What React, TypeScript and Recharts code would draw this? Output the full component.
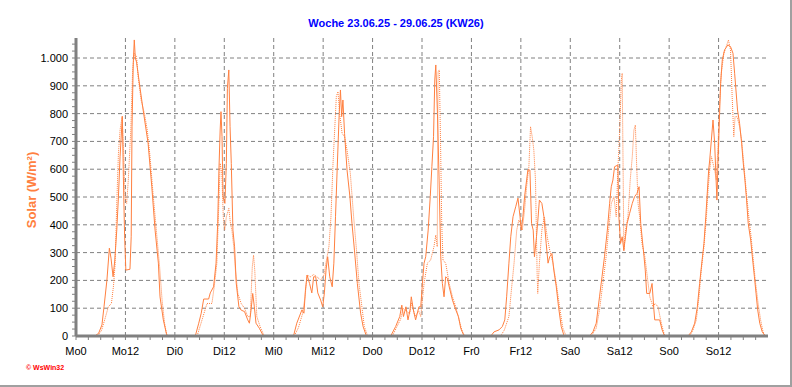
import { LineChart, Line, XAxis, YAxis, ReferenceLine } from "recharts";

const days = ["Mo", "Di", "Mi", "Do", "Fr", "Sa", "So"];

// [hour of day, W/m²] - solid series
const moA = [[0,0],[4.6,0],[5.5,10],[6.3,40],[6.8,105],[7.5,200],[8.1,316],[8.5,280],[9.0,213],[9.4,270],[9.9,381],[10.3,501],[10.7,645],[11.25,790],[11.5,573],[11.8,360],[12.1,237],[13.1,240],[13.4,357],[13.6,753],[13.9,982],[14.15,1065],[14.4,1000],[14.7,985],[15.5,897],[16.3,813],[17.5,694],[18.4,537],[19.2,381],[20,262],[20.4,141],[21.2,58],[22,5],[22.4,0],[24,0]];
const diA = [[0,0],[4.96,0],[5.8,46],[6.4,82],[7.0,133],[8.2,133],[8.6,155],[9.4,177],[10.0,262],[10.4,405],[10.7,597],[11.0,741],[11.2,807],[11.45,717],[11.7,501],[12.15,477],[12.5,621],[12.75,891],[13.1,957],[13.4,753],[13.7,621],[14.1,381],[14.5,321],[14.9,190],[15.55,105],[16.1,93],[16.9,88],[17.7,58],[18.1,46],[18.5,93],[18.9,153],[19.3,105],[19.7,46],[20.5,28],[21.5,0],[24,0]];
const miA = [[0,0],[4.8,0],[5.6,46],[6.85,94],[7.34,82],[7.7,165],[8.1,219],[8.7,189],[9.25,155],[9.7,213],[10.2,213],[10.7,155],[11.4,129],[11.9,105],[12.3,155],[12.7,237],[13.1,285],[13.6,213],[14.2,177],[14.6,262],[15.0,429],[15.4,597],[15.9,801],[16.2,885],[16.5,789],[16.8,849],[17.2,729],[17.8,597],[18.5,501],[19.0,405],[19.6,309],[20.3,189],[21.1,82],[21.7,34],[22.5,0],[24,0]];
const doA = [[0,0],[4.4,0],[5.6,34],[6.6,70],[7.1,111],[7.5,70],[8.1,105],[8.6,58],[9.1,94],[9.4,141],[9.9,94],[10.45,58],[11.25,105],[11.7,105],[12.1,189],[12.5,262],[12.9,285],[13.5,381],[14.0,501],[14.4,609],[14.8,717],[15.1,921],[15.35,975],[15.75,801],[16.15,561],[16.55,285],[16.95,189],[17.35,141],[17.75,213],[18.2,207],[18.6,177],[19.4,129],[20.2,94],[20.85,70],[21.4,28],[22.2,0],[24,0]];
const frA = [[0,0],[4.7,0],[5.5,15],[6.7,22],[7.5,34],[8.1,58],[8.55,141],[9.1,262],[9.55,357],[10.1,429],[10.75,465],[11.3,496],[11.8,429],[12.1,381],[12.5,429],[12.9,501],[13.4,561],[13.7,597],[14.2,597],[14.6,405],[15.0,381],[15.3,285],[15.8,357],[16.1,411],[16.5,489],[17.1,477],[17.6,429],[18.15,333],[18.6,262],[19.0,285],[19.55,297],[20.0,237],[20.6,177],[21.15,105],[21.8,34],[22.5,0],[24,0]];
const saA = [[0,0],[4.7,0],[5.5,15],[6.3,46],[7.1,141],[7.7,213],[8.3,285],[9.0,381],[9.55,477],[9.95,537],[10.35,561],[10.75,609],[11.55,615],[11.8,429],[12.2,333],[12.6,357],[13.0,309],[13.4,357],[13.8,405],[14.4,441],[15.05,477],[15.6,501],[16.2,513],[16.7,537],[17.1,405],[17.5,345],[17.9,285],[18.2,237],[18.55,153],[19.3,153],[19.85,189],[20.3,94],[20.5,58],[21.7,58],[22.3,22],[22.9,0],[24,0]];
const soA = [[0,0],[4.6,0],[5.4,15],[6.2,46],[6.85,105],[7.4,189],[8.0,273],[8.45,333],[8.9,429],[9.3,525],[9.6,597],[9.85,633],[10.25,705],[10.65,777],[11.05,693],[11.3,597],[11.6,489],[11.85,621],[12.25,801],[12.5,909],[12.9,993],[13.45,1029],[14.25,1047],[14.9,1041],[15.5,1017],[15.9,945],[16.6,813],[17.1,765],[17.6,693],[18.0,621],[18.4,561],[18.8,489],[19.2,405],[19.8,345],[20.2,285],[20.7,213],[21.1,153],[21.5,94],[22.0,46],[22.6,15],[23.3,0]];

// dotted series
const moB = [[0,0],[5.2,0],[6.2,20],[7.0,60],[7.85,105],[8.6,117],[9.1,180],[9.5,260],[9.87,465],[10.3,657],[10.7,741],[11.2,790],[11.6,650],[11.9,501],[12.3,477],[12.7,561],[13.3,741],[13.75,957],[14.15,1017],[14.7,1005],[15.1,930],[15.8,849],[16.6,801],[17.3,741],[17.9,657],[18.7,513],[19.5,381],[20.3,249],[20.9,129],[21.5,46],[22.1,0],[24,0]];
const diB = [[0,0],[5.4,0],[6.6,58],[7.8,117],[9.0,117],[9.55,177],[10.2,262],[10.6,441],[11.0,621],[11.4,585],[11.75,429],[12.1,381],[12.5,429],[13.1,459],[13.5,405],[13.85,381],[14.3,321],[14.7,237],[15.3,153],[16.1,117],[16.9,100],[17.7,70],[18.3,70],[18.8,249],[19.1,291],[19.4,237],[19.9,70],[20.7,34],[21.7,0],[24,0]];
const miB = [[0,0],[5.0,0],[6.0,30],[7.0,80],[7.6,140],[8.1,219],[8.9,213],[9.7,221],[10.5,213],[11.4,201],[12.2,219],[12.8,273],[13.4,321],[13.9,429],[14.4,621],[14.8,741],[15.2,861],[15.6,879],[16.0,801],[16.6,729],[17.2,717],[17.8,669],[18.6,585],[19.4,429],[20.1,309],[20.7,189],[21.5,94],[22.0,34],[22.8,0],[24,0]];
const doB = [[0,0],[4.8,0],[5.8,30],[6.8,60],[7.4,100],[8.2,90],[9.0,80],[9.5,120],[10.3,70],[11.2,90],[11.7,70],[12.5,189],[13.3,262],[14.1,273],[14.9,321],[15.35,363],[15.7,321],[15.9,950],[16.2,957],[16.5,700],[16.8,400],[17.1,273],[17.75,262],[18.6,189],[19.4,141],[20.2,105],[21.0,58],[21.8,15],[22.5,0],[24,0]];
const frB = [[0,0],[7.1,0],[8.0,22],[9.1,70],[9.7,165],[10.35,262],[11.0,381],[11.5,417],[11.95,405],[12.35,381],[12.9,453],[13.4,537],[13.95,609],[14.35,753],[14.75,717],[15.15,669],[15.55,561],[15.95,225],[16.1,153],[16.5,262],[17.1,381],[17.7,429],[18.4,357],[19.0,309],[19.8,262],[20.6,189],[21.4,105],[22.2,28],[23.0,0],[24,0]];
const saB = [[0,0],[5.1,0],[6.3,28],[7.1,94],[7.9,189],[8.7,285],[9.3,381],[9.95,477],[10.6,501],[11.15,429],[11.55,597],[12.0,741],[12.4,921],[12.6,945],[12.85,561],[13.0,305],[13.4,381],[14.0,429],[14.55,561],[15.05,645],[15.45,741],[15.8,759],[16.1,621],[16.45,477],[16.85,429],[17.4,333],[18.1,285],[18.7,213],[19.3,141],[20.1,105],[20.6,117],[21.3,105],[22.1,46],[22.9,0],[24,0]];
const soB = [[0,0],[5.0,0],[5.8,22],[6.6,58],[7.25,141],[7.8,237],[8.45,321],[9.05,429],[9.45,525],[9.85,597],[10.25,645],[10.65,621],[11.05,597],[11.45,561],[11.85,681],[12.25,837],[12.65,945],[13.3,1017],[13.85,1041],[14.4,1065],[14.9,1029],[15.3,861],[15.7,717],[16.0,789],[16.5,789],[17.1,753],[17.6,705],[18.1,621],[18.7,525],[19.25,441],[19.9,357],[20.5,262],[21.0,189],[21.6,117],[22.2,58],[22.8,15],[23.3,0]];

const xTicks = Array.from({ length: 56 }, (_, i) => i * 3);
const gridX = [12, 24, 36, 48, 60, 72, 84, 96, 108, 120, 132, 144, 156];
const yTicks = Array.from({ length: 43 }, (_, i) => i * 25);
const gridY = [100, 200, 300, 400, 500, 600, 700, 800, 900, 1000];

const toSeries = (list: number[][][]) =>
  list.flatMap((day, i) => day.map(([h, v]) => ({ t: i * 24 + h, v })));

const solidData = toSeries([moA, diA, miA, doA, frA, saA, soA]);
const dottedData = toSeries([moB, diB, miB, doB, frB, saB, soB]);

const font = "'Liberation Sans', Arial, sans-serif";
const orange = "#FF8040";

const xLabel = (t: number) => (t % 12 === 0 ? days[Math.floor(t / 24)] + (t % 24) : "");
const yLabel = (v: number) => (v % 100 !== 0 ? "" : v >= 1000 ? "1.000" : String(v));

export default function App() {
  return (
    <div style={{ position: "absolute", left: 0, top: 0, width: 792, height: 387, background: "#fff", fontFamily: font }}>
      <div style={{ position: "absolute", left: 0, top: 17, width: 792, textAlign: "center", color: "#0000FF", fontWeight: "bold", fontSize: 11 }}>
        Woche 23.06.25 - 29.06.25 (KW26)
      </div>
      <div style={{ position: "absolute", left: 31, top: 190, transform: "translate(-50%, -50%) rotate(-90deg)", color: orange, fontWeight: "bold", fontSize: 13, whiteSpace: "nowrap" }}>
        Solar (W/m²)
      </div>
      <div style={{ position: "absolute", left: 26, top: 364, color: "#FF0000", fontWeight: "bold", fontSize: 7, whiteSpace: "nowrap" }}>
        © WsWin32
      </div>
      <div style={{ position: "absolute", left: 0, top: 0, width: 790, height: 385, borderRight: "2px solid #a0a0a0", borderBottom: "2px solid #a0a0a0" }} />
      <LineChart width={792} height={387} margin={{ top: 38, right: 24, bottom: 21, left: 0 }} style={{ position: "absolute", left: 0, top: 0 }}>
        <XAxis
          type="number"
          dataKey="t"
          domain={[0, 168]}
          ticks={xTicks}
          interval={0}
          tickFormatter={xLabel}
          height={30}
          tickSize={4}
          tickMargin={7}
          axisLine={{ stroke: "#808080", strokeWidth: 3 }}
          tickLine={{ stroke: "#808080" }}
          tick={{ fill: "#000", fontSize: 11, fontFamily: font }}
          allowDataOverflow
        />
        <XAxis xAxisId="top" orientation="top" type="number" domain={[0, 168]} height={0} tick={false} tickLine={false} axisLine={{ stroke: "#000" }} />
        <YAxis
          type="number"
          domain={[0, 1072]}
          ticks={yTicks}
          interval={0}
          tickFormatter={yLabel}
          width={76}
          tickSize={4}
          tickMargin={4}
          axisLine={{ stroke: "#808080", strokeWidth: 3 }}
          tickLine={{ stroke: "#808080" }}
          tick={{ fill: "#000", fontSize: 11, fontFamily: font }}
          allowDataOverflow
        />
        <YAxis yAxisId="right" orientation="right" type="number" domain={[0, 1072]} width={0} tick={false} tickLine={false} axisLine={{ stroke: "#000" }} />
        {gridX.map((h) => (
          <ReferenceLine key={"x" + h} x={h} stroke="#808080" strokeDasharray="4 3" />
        ))}
        {gridY.map((v) => (
          <ReferenceLine key={"y" + v} y={v} stroke="#808080" strokeDasharray="4 3" />
        ))}
        <Line data={dottedData} dataKey="v" type="linear" stroke={orange} strokeWidth={1} strokeDasharray="1 1" dot={false} isAnimationActive={false} />
        <Line data={solidData} dataKey="v" type="linear" stroke={orange} strokeWidth={1} dot={false} isAnimationActive={false} />
      </LineChart>
    </div>
  );
}
